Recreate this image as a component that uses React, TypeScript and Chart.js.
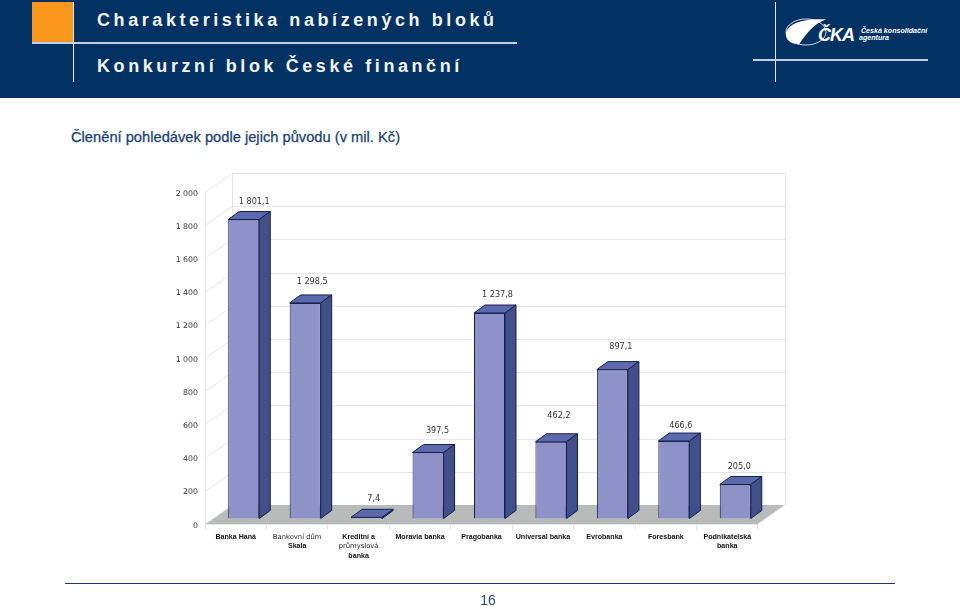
import React, { useEffect, useRef } from "react";
import { Chart, registerables } from "chart.js";

Chart.register(...registerables);

const categories: string[][] = [
  ["Banka Haná"],
  ["Bankovní dům", "Skala"],
  ["Kreditní a", "průmyslová", "banka"],
  ["Moravia banka"],
  ["Pragobanka"],
  ["Universal banka"],
  ["Evrobanka"],
  ["Foresbank"],
  ["Podnikatelská", "banka"],
];
const regularLines = ["Bankovní dům", "průmyslová"];
const values = [1801.1, 1298.5, 7.4, 397.5, 1237.8, 462.2, 897.1, 466.6, 205.0];
const valueLabelDx = [10.5, 7, 7, 9.5, 8, 8, 8.5, 7, 4];
const valueLabelDy = [-18, -21, -18, -22, -18, -26, -23, -15, -18];

const NAVY = "#013263";
const GRID = "#e6e6e6";
const WALL_DX = 27;
const WALL_DY = -19;
const BAR_DX = 8;
const BAR_DY = -5.5;
const BAR_DEPTH_X = 11;
const BAR_DEPTH_Y = -8;
const X_TICK_LEN = 6;
const X_TICK_PAD = 2;
const X_LINE_H = 9.5;

const fmtNumber = (v: number, decimals: number) => {
  const s = v.toFixed(decimals).replace(".", ",");
  const [i, d] = s.split(",");
  const g = i.replace(/\B(?=(\d{3})+(?!\d))/g, " ");
  return d ? `${g},${d}` : g;
};

const scene3d = {
  id: "scene3d",
  beforeDatasetsDraw(chart: any) {
    const { ctx, chartArea: a, scales } = chart;
    const y = scales.y;
    ctx.save();
    // floor
    ctx.fillStyle = "#b9bbbb";
    ctx.beginPath();
    ctx.moveTo(a.left, a.bottom);
    ctx.lineTo(a.left + WALL_DX, a.bottom + WALL_DY);
    ctx.lineTo(a.right + WALL_DX, a.bottom + WALL_DY);
    ctx.lineTo(a.right, a.bottom);
    ctx.closePath();
    ctx.fill();
    // walls
    ctx.strokeStyle = GRID;
    ctx.lineWidth = 1;
    ctx.beginPath();
    y.ticks.forEach((t: any) => {
      const py = Math.round(y.getPixelForValue(t.value)) + 0.5;
      ctx.moveTo(a.left, py);
      ctx.lineTo(a.left + WALL_DX, py + WALL_DY);
      if (t.value > 0) ctx.lineTo(a.right + WALL_DX, py + WALL_DY);
    });
    ctx.moveTo(a.left + 0.5, a.top);
    ctx.lineTo(a.left + 0.5, a.bottom);
    ctx.moveTo(a.left + WALL_DX + 0.5, a.top + WALL_DY);
    ctx.lineTo(a.left + WALL_DX + 0.5, a.bottom + WALL_DY);
    ctx.moveTo(a.right + WALL_DX + 0.5, a.top + WALL_DY);
    ctx.lineTo(a.right + WALL_DX + 0.5, a.bottom + WALL_DY);
    ctx.moveTo(a.right + WALL_DX, a.bottom + WALL_DY);
    ctx.lineTo(a.right, a.bottom);
    ctx.stroke();
    ctx.restore();
    // shift the bars to the middle of the depth
    ctx.save();
    ctx.translate(BAR_DX, BAR_DY);
  },
  afterDatasetsDraw(chart: any) {
    const { ctx, scales } = chart;
    ctx.restore();
    ctx.save();
    const bars = chart.getDatasetMeta(0).data;
    bars.forEach((el: any, i: number) => {
      const l = el.x - el.width / 2 + BAR_DX;
      const r = el.x + el.width / 2 + BAR_DX;
      const t = el.y + BAR_DY;
      const b = el.base + BAR_DY;
      ctx.lineWidth = 1;
      ctx.lineJoin = "round";
      ctx.strokeStyle = "#14204f";
      ctx.fillStyle = "#5d69ad";
      ctx.beginPath();
      ctx.moveTo(l, t);
      ctx.lineTo(l + BAR_DEPTH_X, t + BAR_DEPTH_Y);
      ctx.lineTo(r + BAR_DEPTH_X, t + BAR_DEPTH_Y);
      ctx.lineTo(r, t);
      ctx.closePath();
      ctx.fill();
      ctx.stroke();
      ctx.fillStyle = "#414f8b";
      ctx.beginPath();
      ctx.moveTo(r, t);
      ctx.lineTo(r + BAR_DEPTH_X, t + BAR_DEPTH_Y);
      ctx.lineTo(r + BAR_DEPTH_X, b + BAR_DEPTH_Y);
      ctx.lineTo(r, b);
      ctx.closePath();
      ctx.fill();
      ctx.stroke();
      ctx.fillStyle = "#333333";
      ctx.font = "8.1px 'DejaVu Sans'";
      ctx.textAlign = "center";
      ctx.textBaseline = "middle";
      ctx.fillText(
        fmtNumber(values[i], 1),
        el.x + BAR_DX + valueLabelDx[i],
        el.y + BAR_DY + valueLabelDy[i]
      );
    });
    // regular-weight lines of the category labels
    const x = scales.x;
    ctx.fillStyle = "#222222";
    ctx.font = "6.8px 'DejaVu Sans'";
    ctx.textAlign = "center";
    ctx.textBaseline = "middle";
    categories.forEach((lines, i) => {
      lines.forEach((line, n) => {
        if (!regularLines.includes(line)) return;
        const py = x.top + X_TICK_LEN + X_TICK_PAD + (n + 0.5) * X_LINE_H;
        ctx.fillText(line, x.getPixelForTick(i), py);
      });
    });
    ctx.restore();
  },
};

function ChartCanvas() {
  const ref = useRef<HTMLCanvasElement>(null);
  useEffect(() => {
    const chart = new Chart(ref.current!, {
      type: "bar",
      data: {
        labels: categories.map((c) => c.join(" ")),
        datasets: [
          {
            data: values,
            backgroundColor: "#8e92c8",
            borderColor: "#14204f",
            borderWidth: 1,
            barPercentage: 0.505,
            categoryPercentage: 1,
            clip: false,
          } as any,
        ],
      },
      options: {
        responsive: false,
        animation: false,
        devicePixelRatio: 1,
        layout: { padding: { left: 0, right: 202, top: 192, bottom: 35 } },
        plugins: { legend: { display: false }, tooltip: { enabled: false } },
        scales: {
          x: {
            afterFit: (s: any) => {
              s.height = 50;
            },
            border: { color: GRID },
            grid: {
              drawOnChartArea: false,
              drawTicks: true,
              tickLength: X_TICK_LEN,
              color: GRID,
              offset: true,
            },
            ticks: {
              autoSkip: false,
              maxRotation: 0,
              padding: X_TICK_PAD,
              color: "#111111",
              font: {
                family: "'Liberation Sans'",
                size: 7.1,
                weight: "bold",
                lineHeight: X_LINE_H / 7.1,
              },
              callback: (_v: any, i: number) =>
                categories[i].map((l) => (regularLines.includes(l) ? "" : l)),
            },
          },
          y: {
            min: 0,
            max: 2000,
            afterFit: (s: any) => {
              s.width = 205;
            },
            border: { display: false },
            grid: { display: false, drawTicks: false },
            ticks: {
              stepSize: 200,
              padding: 7,
              labelOffset: 1.5,
              color: "#333333",
              font: { family: "'DejaVu Sans'", size: 7.8 },
              callback: (v: any) => fmtNumber(Number(v), 0),
            },
          },
        },
      } as any,
      plugins: [scene3d],
    });
    return () => chart.destroy();
  }, []);
  return (
    <canvas
      ref={ref}
      width={960}
      height={609}
      style={{ position: "absolute", left: 0, top: 0, width: 960, height: 609 }}
    />
  );
}

const abs = (l: number, t: number, w: number, h: number, bg: string): React.CSSProperties => ({
  position: "absolute",
  left: l,
  top: t,
  width: w,
  height: h,
  background: bg,
});

export default function App() {
  const headFont: React.CSSProperties = {
    position: "absolute",
    left: 97,
    fontFamily: "'Liberation Sans'",
    fontWeight: 700,
    fontSize: 18,
    letterSpacing: 3.58,
    color: "#f2f5f9",
    whiteSpace: "nowrap",
    lineHeight: "22px",
  };
  return (
    <div style={{ position: "absolute", left: 0, top: 0, width: 960, height: 609, background: "#fff", overflow: "hidden" }}>
      <div style={abs(0, 0, 960, 98, NAVY)} />
      <div style={abs(32, 2, 41, 41, "#f7981d")} />
      <div style={abs(32, 42, 485, 2, "#bcd0e6")} />
      <div style={abs(73, 2, 1, 80, "#e8eef5")} />
      <div style={abs(775, 2, 1, 80, "#e8eef5")} />
      <div style={abs(753, 59, 175, 2, "#bcd0e6")} />
      <div style={{ ...headFont, top: 9 }}>Charakteristika nabízených bloků</div>
      <div style={{ ...headFont, top: 55 }}>Konkurzní blok České finanční</div>
      <svg style={{ position: "absolute", left: 780, top: 10, width: 160, height: 45 }} viewBox="780 10 160 45">
        <ellipse cx="806" cy="32" rx="20" ry="13" fill="none" stroke="#fff" strokeWidth="0.8" />
        <path d="M786 33 C788 23 805 18 826 19.5 C814 23 806 34 799 44.5 C790 44 785 39 786 33 Z" fill="#fff" />
        <text x="818" y="41" fill="#fff" fontFamily="'Liberation Sans'" fontWeight="700" fontStyle="italic" fontSize="18" letterSpacing="-1">ČKA</text>
        <text x="861" y="33" fill="#fff" fontFamily="'Liberation Sans'" fontWeight="700" fontStyle="italic" fontSize="7.1">Česká konsolidační</text>
        <text x="859" y="40" fill="#fff" fontFamily="'Liberation Sans'" fontWeight="700" fontStyle="italic" fontSize="7.1">agentura</text>
      </svg>
      <div
        style={{
          position: "absolute",
          left: 71,
          top: 128,
          fontFamily: "'Liberation Sans'",
          fontSize: 14.7,
          lineHeight: "18px",
          color: "#1a3f6f",
          whiteSpace: "nowrap",
          WebkitTextStroke: "0.25px #1a3f6f",
        }}
      >
        Členění pohledávek podle jejich původu (v mil. Kč)
      </div>
      <ChartCanvas />
      <div style={abs(65, 583, 830, 1, "#1d3a6a")} />
      <div
        style={{
          position: "absolute",
          left: 468,
          top: 592,
          width: 40,
          textAlign: "center",
          fontFamily: "'Liberation Sans'",
          fontSize: 14,
          lineHeight: "17px",
          color: "#2a4a78",
        }}
      >
        16
      </div>
    </div>
  );
}
